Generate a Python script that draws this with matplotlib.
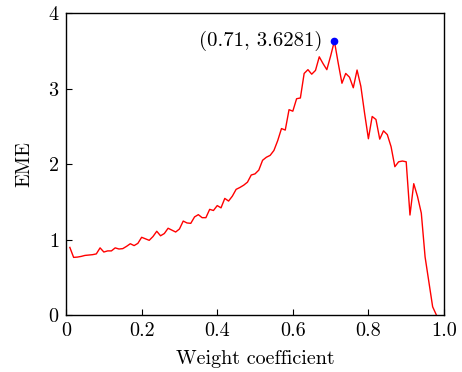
import numpy as np
import matplotlib
matplotlib.use("Agg")
import matplotlib.pyplot as plt

#data
weight = [round(0.01 * i, 2) for i in range(1, 99)]
eme = [0.896, 0.764, 0.768, 0.777, 0.790, 0.795, 0.800, 0.810, 0.890, 0.835,
       0.850, 0.850, 0.890, 0.875, 0.880, 0.910, 0.945, 0.920, 0.950, 1.030,
       1.010, 0.990, 1.040, 1.110, 1.050, 1.080, 1.150, 1.125, 1.100, 1.140,
       1.245, 1.220, 1.215, 1.300, 1.330, 1.290, 1.290, 1.400, 1.385, 1.450,
       1.420, 1.545, 1.510, 1.575, 1.665, 1.690, 1.720, 1.760, 1.855, 1.870,
       1.920, 2.050, 2.090, 2.115, 2.180, 2.310, 2.470, 2.450, 2.720, 2.700,
       2.865, 2.875, 3.200, 3.250, 3.190, 3.240, 3.420, 3.330, 3.250, 3.430,
       3.6281, 3.340, 3.070, 3.200, 3.150, 3.010, 3.245, 3.030, 2.670, 2.335,
       2.630, 2.590, 2.330, 2.440, 2.390, 2.230, 1.965, 2.030, 2.040, 2.030,
       1.325, 1.740, 1.570, 1.350, 0.770, 0.440, 0.110, 0.000]
peakX = 0.71
peakY = 3.6281
xTicks = [0, 0.2, 0.4, 0.6, 0.8, 1.0]
xTickLabels = ["0", "0.2", "0.4", "0.6", "0.8", "1.0"]
yTicks = [0, 1, 2, 3, 4]

#style
plt.rcParams["font.family"] = ["cmr10", "DejaVu Serif"]
plt.rcParams["axes.formatter.use_mathtext"] = True

#draw
fig = plt.figure(figsize=(4.62, 3.72), dpi=100)
ax = fig.add_axes([0.143, 0.153, 0.818, 0.812])

ax.plot(weight, eme, color="red", linewidth=1.0)
ax.plot(peakX, peakY, "o", color="blue", markersize=4.5)
ax.annotate("(%.2f, %.4f)" % (peakX, peakY), xy=(peakX, peakY), xytext=(-9, 0),
            textcoords="offset points", ha="right", va="center", fontsize=15)

ax.set_xlim(0, 1.0)
ax.set_ylim(0, 4)
ax.set_xticks(xTicks)
ax.set_xticklabels(xTickLabels)
ax.set_yticks(yTicks)
ax.tick_params(direction="in", length=4, width=0.8, labelsize=14.5, pad=5)
for s in ax.spines.values():
    s.set_linewidth(1.0)

ax.set_xlabel("Weight coefficient", fontsize=14.5, labelpad=7)
ax.set_ylabel("EME", fontsize=14.5, labelpad=10)

fig.savefig("out.png", dpi=100)
